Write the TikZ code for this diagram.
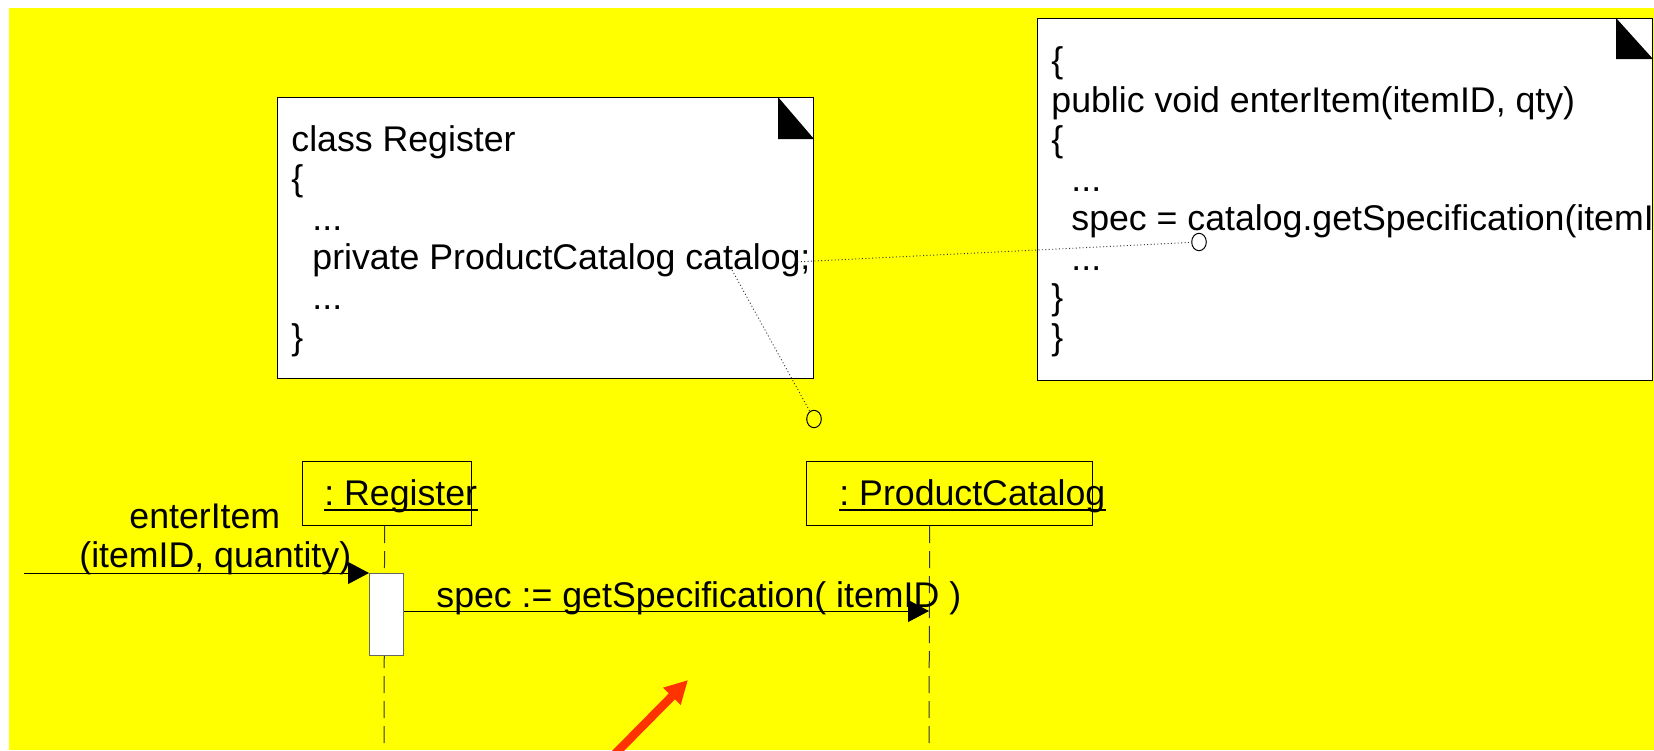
\documentclass[tikz,border=0pt]{standalone}
\usepackage{fontspec}
\setmainfont{Liberation Sans}
\usetikzlibrary{arrows.meta,shapes.geometric}
\definecolor{bgyellow}{RGB}{255,255,0}
\definecolor{arrowred}{RGB}{255,51,0}
\frenchspacing
\begin{document}
\begin{tikzpicture}[x=0.5pt,y=-0.5pt,
  txt/.style={font=\fontsize{17.85pt}{20pt}\selectfont\frenchspacing, inner sep=0pt, anchor=base west},
  notebox/.style={draw=black, fill=white, line width=0.5pt, anchor=north west, inner sep=0pt},
  earfill/.style={fill=black},
  objbox/.style={draw=black, line width=0.6pt, anchor=north west, inner sep=0pt},
  lifeline/.style={draw=black!80, line width=0.5pt, dash pattern=on 8.5pt off 4pt},
  actbox/.style={draw=black!60, fill=white, line width=0.6pt, anchor=north west, inner sep=0pt},
  msg/.style={draw=black, line width=0.5pt, -{Triangle[length=10.5pt,width=11pt]}},
  anchorline/.style={draw=black!80, line width=0.45pt, dash pattern=on 0.5pt off 1.2pt},
  anchorcirc/.style={draw=black, ellipse, line width=0.5pt, minimum width=7.3pt, minimum height=8.7pt, inner sep=0pt},
  pointer/.style={draw=arrowred, line width=4.25pt, -{Triangle[length=11.5pt,width=11.5pt]}},
  uline/.style={draw=black, line width=1pt}
]
\useasboundingbox (0,0) rectangle (1654,750);
\fill[white] (0,0) rectangle (1654,750);
\fill[bgyellow] (9,8) rectangle (1654,750);

% left note
\node[notebox, minimum width=268pt, minimum height=140.5pt] (note1) at (277,97) {};
\fill[earfill] (note1.north east) ++(-36,0) -- ++(0,42) -- ++(36,0) -- cycle;
\node[txt] (n1a) at (291,151) {class Register};
\node[txt] (n1b) at (291,190.6) {\{};
\node[txt] (n1c) at (312,230.2) {...};
\node[txt] (n1d) at (312,269.8) {private ProductCatalog catalog;};
\node[txt] (n1e) at (312,309.4) {...};
\node[txt] (n1f) at (291,349) {\}};

% right note
\node[notebox, minimum width=307.5pt, minimum height=181pt] (note2) at (1037,18) {};
\fill[earfill] (note2.north east) ++(-37,0) -- ++(0,41) -- ++(37,0) -- cycle;
\begin{scope}
\clip (note2.south west) rectangle (note2.north east);
\node[txt] (n2a) at (1051,72.5) {\{};
\node[txt] (n2b) at (1051,112) {public void enterItem(itemID, qty)};
\node[txt] (n2c) at (1051,151.5) {\{};
\node[txt] (n2d) at (1071,191) {...};
\node[txt] (n2e) at (1071,230.5) {spec = catalog.getSpecification(itemI};
\node[txt] (n2f) at (1071,270) {...};
\node[txt] (n2g) at (1051,309.5) {\}};
\node[txt] (n2h) at (1051,349) {\}};
\end{scope}

% anchor lines
\coordinate (d1) at (794,262);
\node[anchorcirc] (c1) at (1199,242) {};
\draw[anchorline] (d1) -- (c1);
\coordinate (d2) at (732,270);
\node[anchorcirc] (c2) at (814,419) {};
\draw[anchorline] (d2) -- (c2);

% lifeline objects
\node[objbox, minimum width=84.5pt, minimum height=32pt] (reg) at (302,461) {};
\node[objbox, minimum width=143pt, minimum height=32pt] (pc) at (806,461) {};
\node[txt] (regl) at (324,505.5) {: Register};
\node[txt] (pcl) at (839,505.5) {: ProductCatalog};
\draw[uline] ([yshift=-2pt]regl.base west) -- ([yshift=-2pt]regl.base east);
\draw[uline] ([yshift=-2pt]pcl.base west) -- ([yshift=-2pt]pcl.base east);

\coordinate (regbot) at (384,750);
\coordinate (pcbot) at (929,750);
\draw[lifeline] ([xshift=-1.25pt]reg.south) -- (regbot);
\draw[lifeline] ([xshift=-10pt]pc.south) -- (pcbot);

% activation
\node[actbox, minimum width=17pt, minimum height=41pt] (act) at (369,573) {};

% messages
\coordinate (start) at (24,573);
\draw[msg] (start) -- (act.north west);
\node[txt] (ei1) at (129,528.5) {enterItem};
\node[txt] (ei2) at (79,567.5) {(itemID, quantity)};

\coordinate (specend) at (929,611);
\draw[msg] (act.east |- specend) -- (specend);
\node[txt] (specl) at (436,607) {spec := getSpecification( itemID )};

% red pointer
\coordinate (p0) at (612,757);
\coordinate (p1) at (688,680);
\draw[pointer] (p0) -- (p1);
\end{tikzpicture}
\end{document}
